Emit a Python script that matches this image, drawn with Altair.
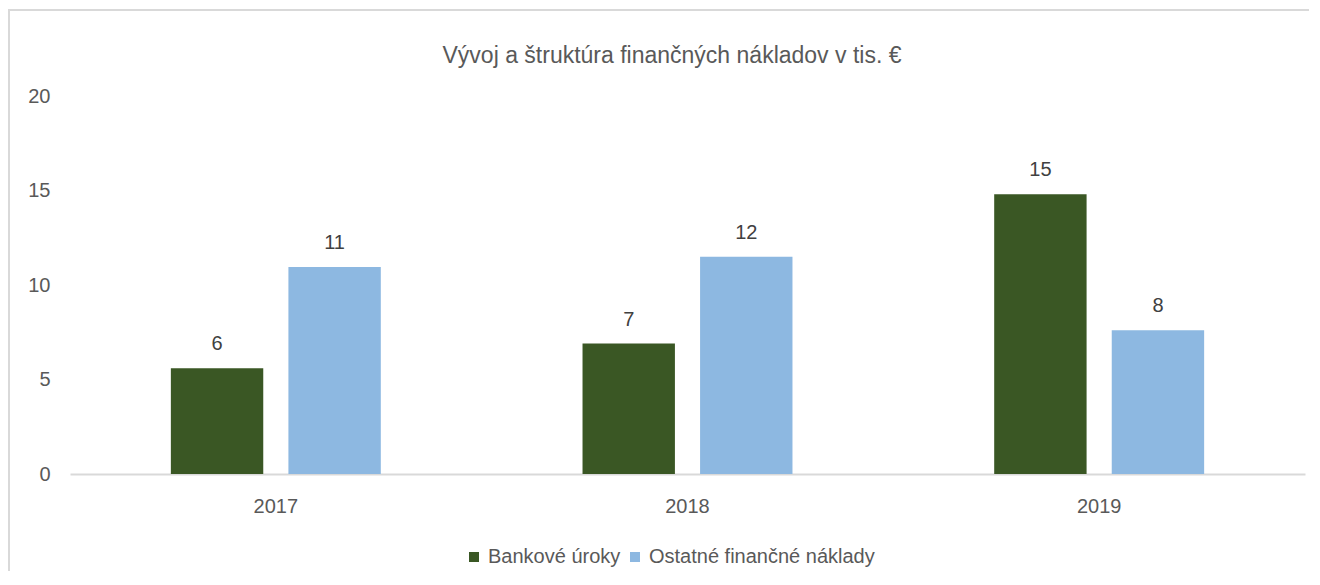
import altair as alt
import pandas as pd

years = ["2017", "2018", "2019"]
series = ["Bankové úroky", "Ostatné finančné náklady"]
bankove = [5.6, 6.9, 14.8]
ostatne = [10.95, 11.5, 7.6]
colors = ["#3A5724", "#8DB8E1"]
title_text = "Vývoj a štruktúra  finančných  nákladov  v tis. €"

rows = []
for i, y in enumerate(years):
    rows.append({"rok": y, "séria": series[0], "hodnota": bankove[i]})
    rows.append({"rok": y, "séria": series[1], "hodnota": ostatne[i]})
df = pd.DataFrame(rows)

FONT = "Liberation Sans Narrow, Arial Narrow, Liberation Sans, sans-serif"
W, H = 1235, 378
PAD = {"left": 62, "top": 88, "right": 4, "bottom": 97}

base = alt.Chart(df).encode(
    x=alt.X("rok:N", sort=years, title=None,
            scale=alt.Scale(paddingInner=0.49, paddingOuter=0.245),
            axis=alt.Axis(labelAngle=0, ticks=False, domainColor="#d9d9d9",
                          domainWidth=2, labelPadding=22, labelFontSize=20,
                          labelColor="#595959", labelFont=FONT)),
    xOffset=alt.XOffset("séria:N", sort=series,
                        scale=alt.Scale(paddingInner=0.214, paddingOuter=0)),
)

bars = base.mark_bar().encode(
    y=alt.Y("hodnota:Q", title=None,
            scale=alt.Scale(domain=[0, 20], nice=False),
            axis=alt.Axis(values=[0, 5, 10, 15, 20], domain=False, ticks=False,
                          grid=False, labelPadding=20, labelFontSize=20,
                          labelColor="#595959", labelFont=FONT)),
    color=alt.Color("séria:N", sort=series,
                    scale=alt.Scale(domain=series, range=colors),
                    legend=alt.Legend(title=None, orient="none", direction="horizontal",
                                      legendX=394, legendY=451, symbolType="square",
                                      symbolSize=100, symbolStrokeWidth=0,
                                      labelFontSize=20, labelColor="#595959",
                                      labelFont=FONT, columnPadding=4,
                                      labelLimit=400,
                                      symbolOffset=0, labelOffset=4)),
)

labels = base.mark_text(dy=-14, baseline="bottom", fontSize=20, color="#404040",
                        font=FONT).encode(
    y=alt.Y("hodnota:Q"),
    text=alt.Text("hodnota:Q", format=".0f"),
)

one = pd.DataFrame({"t": [title_text]})

title = alt.Chart(one).mark_text(
    fontSize=23, color="#595959", font=FONT, baseline="middle", align="center"
).encode(x=alt.value(602), y=alt.value(-40), text="t:N")

border_top = alt.Chart(one).mark_rect(fill="#d9d9d9", strokeWidth=0).encode(
    x=alt.value(-62), x2=alt.value(W + PAD["right"]),
    y=alt.value(-87), y2=alt.value(-85))
border_left = alt.Chart(one).mark_rect(fill="#d9d9d9", strokeWidth=0).encode(
    x=alt.value(-62), x2=alt.value(-60),
    y=alt.value(-87), y2=alt.value(H + PAD["bottom"]))

chart = alt.layer(border_top, border_left, title, bars, labels).properties(
    width=W, height=H,
    autosize=alt.AutoSizeParams(type="none"),
    padding=PAD,
).configure_view(stroke=None)

chart.save("out.html", embed_options={"renderer": "svg", "actions": False})
